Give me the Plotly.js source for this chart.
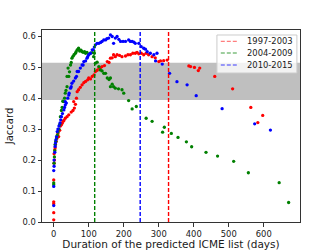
<!DOCTYPE html>
<html><head><meta charset="utf-8">
<script src="https://cdn.plot.ly/plotly-3.0.1.min.js"></script>
<style>html,body{margin:0;padding:0;background:#fff}#c{width:334px;height:250px}</style>
</head><body><div id="c"></div>
<script>
const seriesNames = ['1997-2003', '2004-2009', '2010-2015'];
const seriesColors = ['#ff0000', '#008000', '#0000ff'];
const cutoffs = [328, 117, 247];
const bandRange = [0.394, 0.514];

const redX = [0,0,0,0,0,1,2,1,3,4,5,7,9,14,12,17,19,22,24,27,29,33,38,43,50,55,59,62,57,65,67,71,76,81,86,91,97,100,105,110,115,119,124,129,133,138,145,153,158,162,167,171,176,181,188,195,205,212,219,226,233,238,243,250,257,264,271,281,290,300,305,314,324,386,391,402,413,417,460,511,563,583,597];
const redY = [0.007,0.03,0.059,0.065,0.136,0.19,0.2,0.22,0.233,0.24,0.25,0.26,0.27,0.276,0.285,0.296,0.31,0.314,0.319,0.325,0.328,0.335,0.34,0.346,0.355,0.36,0.368,0.38,0.389,0.40,0.421,0.427,0.435,0.443,0.45,0.454,0.459,0.465,0.462,0.47,0.475,0.486,0.49,0.497,0.497,0.502,0.505,0.518,0.515,0.529,0.53,0.54,0.534,0.54,0.538,0.534,0.536,0.54,0.54,0.545,0.545,0.548,0.543,0.545,0.54,0.545,0.54,0.534,0.53,0.518,0.52,0.521,0.523,0.504,0.502,0.499,0.489,0.497,0.47,0.43,0.37,0.321,0.344];

const greenX = [0,0,1,2,3,4,6,8,10,12,15,17,19,22,24,26,29,31,33,35,38,38,41,43,45,48,50,52,55,58,62,64,67,70,71,74,78,81,84,88,91,95,100,105,110,114,116,119,124,129,133,138,143,148,153,158,162,162,167,171,176,185,195,200,214,224,236,264,281,311,316,336,355,379,394,435,468,514,556,644,671];
const greenY = [0.12,0.126,0.19,0.21,0.23,0.25,0.26,0.271,0.28,0.29,0.3,0.315,0.34,0.36,0.37,0.39,0.389,0.40,0.416,0.425,0.437,0.47,0.497,0.47,0.485,0.507,0.515,0.529,0.535,0.54,0.545,0.55,0.556,0.558,0.561,0.552,0.555,0.55,0.548,0.55,0.545,0.548,0.54,0.545,0.547,0.534,0.545,0.513,0.516,0.502,0.491,0.488,0.48,0.48,0.465,0.46,0.465,0.437,0.445,0.437,0.432,0.43,0.427,0.416,0.392,0.365,0.373,0.335,0.325,0.29,0.306,0.286,0.273,0.259,0.243,0.225,0.213,0.196,0.159,0.127,0.063];

const blueX = [0,0,0,1,1,3,4,5,6,8,10,12,15,18,20,22,25,29,31,33,33,36,40,43,44,48,50,52,57,62,65,67,71,76,81,84,86,91,95,97,100,105,110,113,116,119,124,129,134,138,143,148,152,157,162,167,171,176,181,186,191,198,205,214,219,224,229,233,243,250,257,262,267,276,286,291,295,310,331,352,381,407,481,574,619];
const blueY = [0.053,0.115,0.166,0.18,0.2,0.225,0.244,0.255,0.265,0.275,0.292,0.3,0.31,0.32,0.33,0.34,0.35,0.362,0.37,0.378,0.389,0.384,0.40,0.41,0.416,0.432,0.437,0.448,0.455,0.465,0.47,0.486,0.486,0.497,0.507,0.507,0.518,0.52,0.529,0.534,0.54,0.545,0.556,0.556,0.565,0.572,0.577,0.577,0.58,0.583,0.588,0.588,0.592,0.594,0.604,0.599,0.577,0.594,0.599,0.59,0.583,0.583,0.583,0.588,0.583,0.583,0.581,0.577,0.577,0.566,0.561,0.558,0.55,0.545,0.54,0.52,0.545,0.51,0.48,0.453,0.443,0.408,0.366,0.317,0.297];

const xTicks = [0,100,200,300,400,500,600];
const yTicks = [0.0,0.1,0.2,0.3,0.4,0.5,0.6];
const xRange = [-33.5, 703.5];
const yRange = [0, 0.62];

const xs = [redX, greenX, blueX];
const ys = [redY, greenY, blueY];
const traces = [];
for (let i = 0; i < 3; i++) {
  traces.push({x: xs[i], y: ys[i], type: 'scatter', mode: 'markers', name: seriesNames[i],
    marker: {color: seriesColors[i], size: 3.3}, showlegend: false, hoverinfo: 'skip'});
}
for (let i = 0; i < 3; i++) {
  traces.push({x: [cutoffs[i], cutoffs[i]], y: yRange, type: 'scatter', mode: 'lines',
    line: {color: seriesColors[i], width: 1.4, dash: '4px,2px'}, showlegend: false, hoverinfo: 'skip'});
}

const fontFam = 'DejaVu Sans, sans-serif';
const textCol = '#1a1a1a';

// legend drawn by hand (paper coordinates) to reproduce the compact matplotlib legend
const shapes = [{type: 'rect', xref: 'paper', x0: 0, x1: 1, yref: 'y', y0: bandRange[0], y1: bandRange[1],
  fillcolor: 'rgba(128,128,128,0.5)', line: {width: 0}, layer: 'below'}];
const annotations = [];
shapes.push({type: 'rect', xref: 'paper', yref: 'paper', x0: 0.678, x1: 0.988, y0: 0.776, y1: 0.974,
  fillcolor: 'rgba(255,255,255,0.8)', line: {color: '#cccccc', width: 1}, layer: 'above'});
const rowY = [0.941, 0.880, 0.818];
for (let i = 0; i < 3; i++) {
  shapes.push({type: 'line', xref: 'paper', yref: 'paper', x0: 0.693, x1: 0.761, y0: rowY[i], y1: rowY[i],
    opacity: 0.5, line: {color: seriesColors[i], width: 1.4, dash: '4px,2px'}, layer: 'above'});
  annotations.push({xref: 'paper', yref: 'paper', x: 0.786, y: rowY[i], xanchor: 'left', yanchor: 'middle',
    text: seriesNames[i], showarrow: false, font: {family: fontFam, size: 8.4, color: textCol}});
}

const layout = {
  width: 334, height: 250,
  margin: {l: 42, r: 34, t: 30, b: 28},
  paper_bgcolor: '#fff', plot_bgcolor: '#fff',
  font: {family: fontFam, size: 8.4, color: textCol},
  showlegend: false,
  xaxis: {range: xRange, tickvals: xTicks, ticktext: xTicks.map(String),
    showgrid: false, zeroline: false, showline: true, mirror: true, linecolor: '#333', linewidth: 1,
    ticks: 'outside', ticklen: 3.5, tickcolor: '#333', tickfont: {size: 8.4},
    title: {text: 'Duration of the predicted ICME list (days)', font: {size: 10.5, color: textCol}, standoff: 2},
    automargin: false},
  yaxis: {range: yRange, tickvals: yTicks, ticktext: yTicks.map(v => v.toFixed(1)),
    showgrid: false, zeroline: false, showline: true, mirror: true, linecolor: '#333', linewidth: 1,
    ticks: 'outside', ticklen: 3.5, tickcolor: '#333', tickfont: {size: 8.4},
    title: {text: 'Jaccard', font: {size: 10, color: textCol}, standoff: 6},
    automargin: false},
  shapes: shapes,
  annotations: annotations
};
Plotly.newPlot('c', traces, layout, {staticPlot: true, displayModeBar: false});
</script></body></html>
